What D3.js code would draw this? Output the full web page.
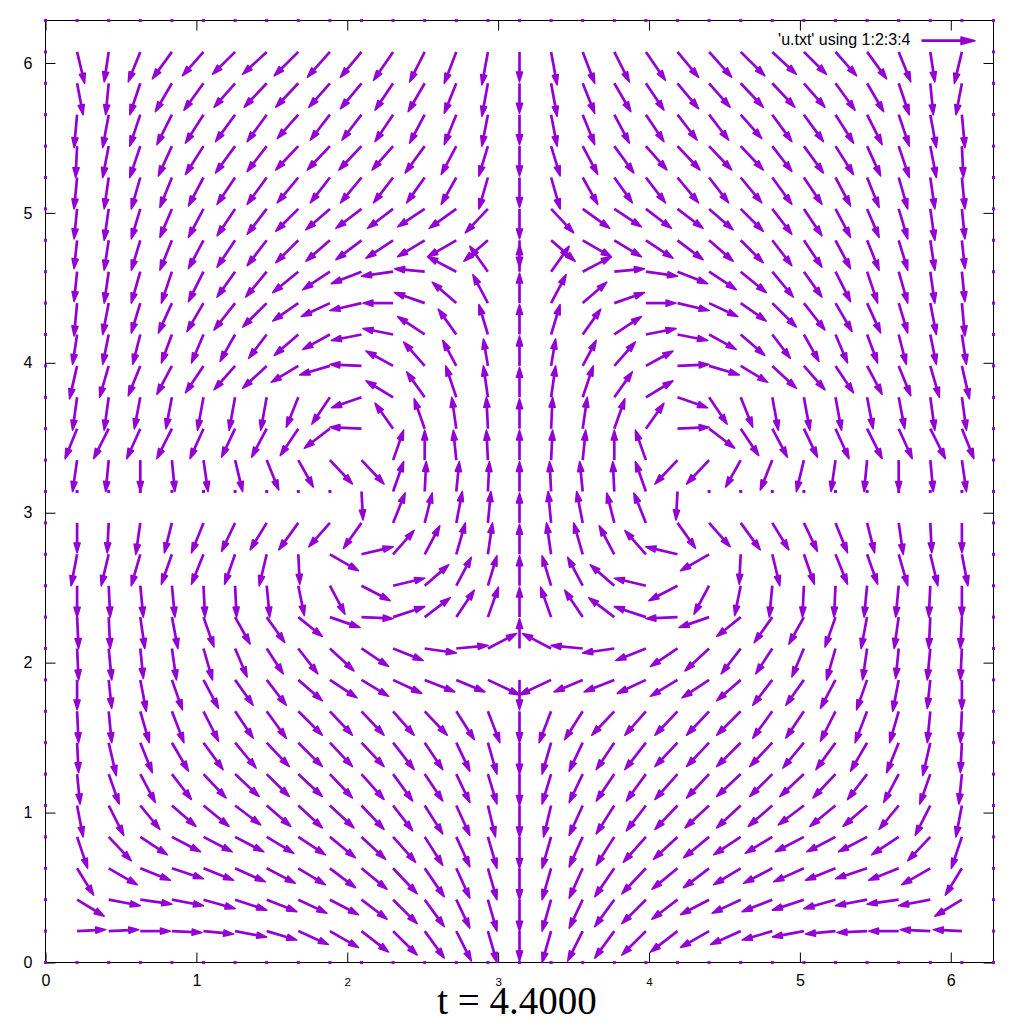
<!DOCTYPE html>
<html><head><meta charset="utf-8">
<script src="https://cdn.jsdelivr.net/npm/d3@7"></script>
<style>body{margin:0;background:#fff}</style>
</head><body>
<svg id="c" width="1024" height="1024" xmlns="http://www.w3.org/2000/svg"></svg>
<script>
// Grid positions (columns 1 and 2 of u.txt)
const xGrid = [0,0.2094,0.4189,0.6283,0.8378,1.0472,1.2566,1.4661,1.6755,1.8850,2.0944,2.3038,2.5133,2.7227,2.9322,3.1416,3.3510,3.5605,3.7699,3.9794,4.1888,4.3982,4.6077,4.8171,5.0265,5.2360,5.4454,5.6549,5.8643,6.0737,6.2832];
const yGrid = [0,0.2094,0.4189,0.6283,0.8378,1.0472,1.2566,1.4661,1.6755,1.8850,2.0944,2.3038,2.5133,2.7227,2.9322,3.1416,3.3510,3.5605,3.7699,3.9794,4.1888,4.3982,4.6077,4.8171,5.0265,5.2360,5.4454,5.6549,5.8643,6.0737,6.2832];
// Vector components (columns 3 and 4), row index = y index (bottom to top), column index = x index
const U = [
[0,0,0,0,0,0,0,0,0,0,0,0,0,0,0,0,0,0,0,0,0,0,0,0,0,0,0,0,0,0,0],
[0,.19,.20,.20,.20,.20,.21,.20,.20,.19,.18,.16,.13,.10,.06,0,-.06,-.10,-.13,-.16,-.18,-.19,-.20,-.20,-.21,-.20,-.20,-.20,-.20,-.19,0],
[0,.18,.21,.21,.21,.21,.21,.20,.19,.19,.17,.16,.13,.09,.06,0,-.06,-.09,-.13,-.16,-.17,-.19,-.19,-.20,-.21,-.21,-.21,-.21,-.21,-.18,0],
[0,.11,.19,.20,.21,.20,.20,.19,.18,.17,.17,.16,.13,.09,.06,0,-.06,-.09,-.13,-.16,-.17,-.17,-.18,-.19,-.20,-.20,-.21,-.20,-.19,-.11,0],
[0,.07,.15,.18,.19,.19,.19,.18,.18,.17,.16,.15,.12,.09,.06,0,-.06,-.09,-.12,-.15,-.16,-.17,-.18,-.18,-.19,-.19,-.19,-.18,-.15,-.07,0],
[0,.04,.10,.13,.16,.17,.17,.16,.16,.16,.15,.13,.12,.09,.05,0,-.05,-.09,-.12,-.13,-.15,-.16,-.16,-.16,-.17,-.17,-.16,-.13,-.10,-.04,0],
[0,.02,.07,.10,.13,.15,.16,.15,.16,.15,.15,.13,.12,.09,.06,0,-.06,-.09,-.12,-.13,-.15,-.15,-.16,-.15,-.16,-.15,-.13,-.10,-.07,-.02,0],
[0,.01,.05,.08,.11,.13,.14,.15,.16,.15,.15,.14,.12,.09,.06,0,-.06,-.09,-.12,-.14,-.15,-.15,-.16,-.15,-.14,-.13,-.11,-.08,-.05,-.01,0],
[0,.01,.02,.06,.08,.10,.12,.13,.16,.15,.15,.14,.15,.12,.08,0,-.08,-.12,-.15,-.14,-.15,-.15,-.16,-.13,-.12,-.10,-.08,-.06,-.02,-.01,0],
[0,0,.02,.04,.07,.10,.12,.13,.16,.18,.18,.19,.20,.19,.21,0,-.21,-.19,-.20,-.19,-.18,-.18,-.16,-.13,-.12,-.10,-.07,-.04,-.02,0,0],
[0,.01,.02,.02,.03,.06,.08,.11,.13,.16,.18,.20,.21,.21,.19,0,-.19,-.21,-.21,-.20,-.18,-.16,-.13,-.11,-.08,-.06,-.03,-.02,-.02,-.01,0],
[0,.01,.01,.03,.04,.07,.10,.12,.16,.20,.21,.21,.17,.12,.07,0,-.07,-.12,-.17,-.21,-.21,-.20,-.16,-.12,-.10,-.07,-.04,-.03,-.01,-.01,0],
[0,0,.01,.02,.02,.01,.01,.02,.04,.10,.19,.21,.16,.10,.06,0,-.06,-.10,-.16,-.21,-.19,-.10,-.04,-.02,-.01,-.01,-.02,-.02,-.01,0,0],
[0,-.04,-.05,-.06,-.07,-.08,-.07,-.05,.01,.19,.21,.14,.10,.06,.03,0,-.03,-.06,-.10,-.14,-.21,-.19,-.01,.05,.07,.08,.07,.06,.05,.04,0],
[0,0,-.01,-.03,-.05,-.08,-.09,-.11,-.13,-.14,-.12,.08,.05,.04,.02,0,-.02,-.04,-.05,-.08,.12,.14,.13,.11,.09,.08,.05,.03,.01,0,0],
[0,0,0,0,0,0,0,0,0,0,.01,.07,.01,.02,.01,0,-.01,-.02,-.01,-.07,-.01,0,0,0,0,0,0,0,0,0,0],
[0,-.03,-.02,0,.02,.03,.05,.08,.10,.15,.15,.07,0,-.02,-.01,0,.01,.02,0,-.07,-.15,-.15,-.10,-.08,-.05,-.03,-.02,0,.02,.03,0],
[0,-.08,-.10,-.09,-.10,-.09,-.09,-.10,-.12,-.17,-.21,-.12,-.07,-.03,-.01,0,.01,.03,.07,.12,.21,.17,.12,.10,.09,.09,.10,.09,.10,.08,0],
[0,-.03,-.03,-.04,-.04,-.04,-.04,-.04,-.08,-.12,-.20,-.18,-.12,-.07,-.03,0,.03,.07,.12,.18,.20,.12,.08,.04,.04,.04,.04,.04,.03,.03,0],
[0,-.05,-.06,-.08,-.10,-.12,-.14,-.16,-.18,-.20,-.21,-.18,-.14,-.09,-.03,0,.03,.09,.14,.18,.21,.20,.18,.16,.14,.12,.10,.08,.06,.05,0],
[0,-.03,-.04,-.05,-.07,-.08,-.10,-.12,-.16,-.18,-.20,-.20,-.18,-.12,-.06,0,.06,.12,.18,.20,.20,.18,.16,.12,.10,.08,.07,.05,.04,.03,0],
[0,-.02,-.04,-.06,-.09,-.11,-.14,-.16,-.17,-.19,-.21,-.20,-.20,-.16,-.10,0,.10,.16,.20,.20,.21,.19,.17,.16,.14,.11,.09,.06,.04,.02,0],
[0,-.02,-.03,-.06,-.07,-.10,-.12,-.14,-.17,-.18,-.20,-.21,-.20,-.19,-.12,0,.12,.19,.20,.21,.20,.18,.17,.14,.12,.10,.07,.06,.03,.02,0],
[0,-.02,-.03,-.06,-.08,-.10,-.12,-.13,-.15,-.16,-.17,-.18,-.18,-.19,-.16,0,.16,.19,.18,.18,.17,.16,.15,.13,.12,.10,.08,.06,.03,.02,0],
[0,-.02,-.03,-.06,-.08,-.10,-.12,-.13,-.15,-.16,-.17,-.17,-.18,-.18,-.15,0,.15,.18,.18,.17,.17,.16,.15,.13,.12,.10,.08,.06,.03,.02,0],
[0,-.02,-.03,-.06,-.08,-.10,-.12,-.13,-.14,-.13,-.14,-.13,-.12,-.10,-.06,0,.06,.10,.12,.13,.14,.13,.14,.13,.12,.10,.08,.06,.03,.02,0],
[0,-.01,-.04,-.07,-.09,-.12,-.13,-.13,-.15,-.15,-.15,-.14,-.13,-.10,-.06,0,.06,.10,.13,.14,.15,.15,.15,.13,.13,.12,.09,.07,.04,.01,0],
[0,-.02,-.04,-.07,-.10,-.12,-.13,-.13,-.14,-.13,-.13,-.12,-.10,-.08,-.04,0,.04,.08,.10,.12,.13,.13,.14,.13,.13,.12,.10,.07,.04,.02,0],
[0,.04,-.02,-.07,-.11,-.13,-.14,-.15,-.15,-.14,-.14,-.12,-.11,-.08,-.04,0,.04,.08,.11,.12,.14,.14,.15,.15,.14,.13,.11,.07,.02,-.04,0],
[0,.05,-.03,-.08,-.13,-.14,-.15,-.16,-.16,-.15,-.14,-.13,-.10,-.08,-.04,0,.04,.08,.10,.13,.14,.15,.16,.16,.15,.14,.13,.08,.03,-.05,0],
[0,0,0,0,0,0,0,0,0,0,0,0,0,0,0,0,0,0,0,0,0,0,0,0,0,0,0,0,0,0,0]
];
const V = [
[0,0,0,0,0,0,0,0,0,0,0,0,0,0,0,0,0,0,0,0,0,0,0,0,0,0,0,0,0,0,0],
[0,.01,.01,0,-.01,-.02,-.04,-.06,-.09,-.11,-.14,-.16,-.18,-.20,-.21,-.20,-.21,-.20,-.18,-.16,-.14,-.11,-.09,-.06,-.04,-.02,-.01,0,.01,.01,0],
[0,-.11,-.04,-.03,-.04,-.06,-.07,-.08,-.09,-.10,-.13,-.16,-.18,-.19,-.21,-.21,-.21,-.19,-.18,-.16,-.13,-.10,-.09,-.08,-.07,-.06,-.04,-.03,-.04,-.11,0],
[0,-.18,-.11,-.08,-.07,-.08,-.09,-.10,-.11,-.13,-.14,-.17,-.19,-.20,-.21,-.21,-.21,-.20,-.19,-.17,-.14,-.13,-.11,-.10,-.09,-.08,-.07,-.08,-.11,-.18,0],
[0,-.21,-.16,-.12,-.10,-.10,-.10,-.11,-.12,-.14,-.15,-.17,-.19,-.20,-.21,-.21,-.21,-.20,-.19,-.17,-.15,-.14,-.12,-.11,-.10,-.10,-.10,-.12,-.16,-.21,0],
[0,-.21,-.20,-.16,-.14,-.14,-.13,-.14,-.15,-.15,-.16,-.17,-.19,-.20,-.21,-.21,-.21,-.20,-.19,-.17,-.16,-.15,-.15,-.14,-.13,-.14,-.14,-.16,-.20,-.21,0],
[0,-.20,-.20,-.19,-.17,-.16,-.15,-.15,-.15,-.16,-.17,-.18,-.18,-.19,-.20,-.21,-.20,-.19,-.18,-.18,-.17,-.16,-.15,-.15,-.15,-.16,-.17,-.19,-.20,-.20,0],
[0,-.20,-.22,-.20,-.19,-.18,-.17,-.16,-.16,-.16,-.16,-.18,-.18,-.19,-.21,-.21,-.21,-.19,-.18,-.18,-.16,-.16,-.16,-.16,-.17,-.18,-.19,-.20,-.22,-.20,0],
[0,-.21,-.21,-.21,-.21,-.20,-.18,-.18,-.16,-.16,-.16,-.16,-.16,-.19,-.21,-.21,-.21,-.19,-.16,-.16,-.16,-.16,-.16,-.18,-.18,-.20,-.21,-.21,-.21,-.21,0],
[0,-.20,-.19,-.21,-.20,-.19,-.17,-.17,-.14,-.12,-.11,-.09,-.08,-.08,-.10,-.20,-.10,-.08,-.08,-.09,-.11,-.12,-.14,-.17,-.17,-.19,-.20,-.21,-.19,-.20,0],
[0,-.21,-.21,-.20,-.21,-.21,-.19,-.17,-.17,-.15,-.12,-.08,-.03,.02,.10,.20,.10,.02,-.03,-.08,-.12,-.15,-.17,-.17,-.19,-.21,-.21,-.20,-.21,-.21,0],
[0,-.21,-.21,-.21,-.21,-.20,-.18,-.17,-.13,-.07,-.01,.07,.13,.18,.20,.20,.20,.18,.13,.07,-.01,-.07,-.13,-.17,-.18,-.20,-.21,-.21,-.21,-.21,0],
[0,-.21,-.21,-.21,-.21,-.21,-.21,-.21,-.20,-.19,-.10,.05,.14,.19,.20,.20,.20,.19,.14,.05,-.10,-.19,-.20,-.21,-.21,-.21,-.21,-.21,-.21,-.21,0],
[0,-.21,-.21,-.21,-.20,-.20,-.20,-.21,-.20,-.11,.05,.16,.19,.21,.21,.20,.21,.21,.19,.16,.05,-.11,-.20,-.21,-.20,-.20,-.20,-.21,-.21,-.21,0],
[0,-.20,-.20,-.21,-.20,-.20,-.19,-.18,-.18,-.16,-.17,.20,.20,.21,.21,.20,.21,.21,.20,.20,-.17,-.16,-.18,-.18,-.19,-.20,-.20,-.21,-.20,-.20,0],
[0,0,0,0,0,0,0,0,0,0,-.19,.20,.20,.20,.20,.20,.20,.20,.20,.20,-.19,0,0,0,0,0,0,0,0,0,0],
[0,-.21,-.21,-.21,-.21,-.21,-.21,-.20,-.18,-.16,-.16,.20,.20,.20,.20,.20,.20,.20,.20,.20,-.16,-.16,-.18,-.20,-.21,-.21,-.21,-.21,-.21,-.21,0],
[0,-.20,-.20,-.20,-.20,-.20,-.19,-.19,-.18,-.13,.01,.17,.20,.21,.21,.20,.21,.21,.20,.17,.01,-.13,-.18,-.19,-.19,-.20,-.20,-.20,-.20,-.20,0],
[0,-.22,-.22,-.21,-.21,-.22,-.22,-.22,-.20,-.18,-.07,.11,.17,.21,.21,.20,.21,.21,.17,.11,-.07,-.18,-.20,-.22,-.22,-.22,-.21,-.21,-.22,-.22,0],
[0,-.22,-.21,-.20,-.19,-.18,-.16,-.15,-.11,-.06,.01,.10,.16,.17,.18,.20,.18,.17,.16,.10,.01,-.06,-.11,-.15,-.16,-.18,-.19,-.20,-.21,-.22,0],
[0,-.20,-.20,-.20,-.19,-.19,-.18,-.16,-.14,-.10,-.04,.04,.12,.17,.20,.20,.20,.17,.12,.04,-.04,-.10,-.14,-.16,-.18,-.19,-.19,-.20,-.20,-.20,0],
[0,-.22,-.21,-.20,-.20,-.19,-.18,-.16,-.12,-.09,-.05,0,.07,.14,.19,.20,.19,.14,.07,0,-.05,-.09,-.12,-.16,-.18,-.19,-.20,-.20,-.21,-.22,0],
[0,-.20,-.21,-.21,-.21,-.20,-.17,-.17,-.14,-.12,-.08,-.03,.02,.10,.17,.18,.17,.10,.02,-.03,-.08,-.12,-.14,-.17,-.17,-.20,-.21,-.21,-.21,-.20,0],
[0,-.19,-.20,-.20,-.20,-.19,-.18,-.17,-.15,-.14,-.13,-.12,-.11,-.11,-.14,-.18,-.14,-.11,-.11,-.12,-.13,-.14,-.15,-.17,-.18,-.19,-.20,-.20,-.20,-.19,0],
[0,-.20,-.21,-.20,-.19,-.19,-.18,-.17,-.15,-.14,-.13,-.13,-.12,-.13,-.16,-.20,-.16,-.13,-.12,-.13,-.13,-.14,-.15,-.17,-.18,-.19,-.19,-.20,-.21,-.20,0],
[0,-.21,-.21,-.21,-.20,-.19,-.18,-.18,-.17,-.17,-.17,-.17,-.17,-.18,-.21,-.20,-.21,-.18,-.17,-.17,-.17,-.17,-.17,-.18,-.18,-.19,-.20,-.21,-.21,-.21,0],
[0,-.21,-.21,-.21,-.20,-.19,-.18,-.17,-.16,-.16,-.16,-.16,-.18,-.19,-.20,-.20,-.20,-.19,-.18,-.16,-.16,-.16,-.16,-.17,-.18,-.19,-.20,-.21,-.21,-.21,0],
[0,-.22,-.22,-.21,-.20,-.19,-.18,-.18,-.16,-.17,-.17,-.18,-.19,-.20,-.21,-.20,-.21,-.20,-.19,-.18,-.17,-.17,-.16,-.18,-.18,-.19,-.20,-.21,-.22,-.22,0],
[0,-.21,-.21,-.21,-.19,-.18,-.16,-.16,-.16,-.16,-.17,-.18,-.19,-.20,-.22,-.20,-.22,-.20,-.19,-.18,-.17,-.16,-.16,-.16,-.16,-.18,-.19,-.21,-.21,-.21,0],
[0,-.21,-.20,-.20,-.18,-.16,-.15,-.15,-.16,-.17,-.17,-.19,-.20,-.21,-.22,-.20,-.22,-.21,-.20,-.19,-.17,-.17,-.16,-.15,-.15,-.16,-.18,-.20,-.20,-.21,0],
[0,0,0,0,0,0,0,0,0,0,0,0,0,0,0,0,0,0,0,0,0,0,0,0,0,0,0,0,0,0,0]
];
const xTicks = [0,1,2,3,4,5,6];
const yTicks = [0,1,2,3,4,5,6];
const smallXTicks = [2,3,4];
const legendLabel = "'u.txt' using 1:2:3:4";
const titleText = "t = 4.4000";

const COLOR = "#9400d3";
const svg = d3.select("#c");
svg.append("rect").attr("width",1024).attr("height",1024).attr("fill","#fff");

const x = d3.scaleLinear().domain([0, 2*Math.PI]).range([45.5, 993.5]);
const y = d3.scaleLinear().domain([0, 2*Math.PI]).range([962.5, 20.5]);

// frame
svg.append("rect").attr("x",x(0)).attr("y",y(2*Math.PI))
  .attr("width",x(2*Math.PI)-x(0)).attr("height",y(0)-y(2*Math.PI))
  .attr("fill","none").attr("stroke","#000").attr("stroke-width",1);

const fontSans = "'Liberation Sans', Arial, sans-serif";
// axes (ticks point inward, mirrored on top/right)
const gx = svg.append("g").attr("transform",`translate(0,${y(0)})`).style("color","#000")
  .call(d3.axisBottom(x).tickValues(xTicks).tickSize(-10).tickSizeOuter(0).tickFormat(d3.format("d")));
gx.select(".domain").remove();
gx.selectAll("text").attr("y",23.5).attr("dy",null)
  .attr("font-family",fontSans).attr("font-size",d => smallXTicks.includes(d) ? 11.5 : 16).attr("fill","#000");

const gy = svg.append("g").attr("transform",`translate(${x(0)},0)`).style("color","#000")
  .call(d3.axisLeft(y).tickValues(yTicks).tickSize(-10).tickSizeOuter(0).tickPadding(13).tickFormat(d3.format("d")));
gy.select(".domain").remove();
gy.selectAll("text").attr("font-family",fontSans).attr("font-size",16).attr("fill","#000");

const gt = svg.append("g").attr("transform",`translate(0,${y(2*Math.PI)})`).style("color","#000")
  .call(d3.axisTop(x).tickValues(xTicks).tickSize(-10).tickSizeOuter(0).tickFormat(() => ""));
gt.select(".domain").remove();
const gr = svg.append("g").attr("transform",`translate(${x(2*Math.PI)},0)`).style("color","#000")
  .call(d3.axisRight(y).tickValues(yTicks).tickSize(-10).tickSizeOuter(0).tickFormat(() => ""));
gr.select(".domain").remove();

// vectors
const vectors = [];
yGrid.forEach((yy, j) => xGrid.forEach((xx, k) => vectors.push({x: xx, y: yy, u: U[j][k], v: V[j][k]})));

function arrowGeom(x0, y0, x1, y1, L, W) {
  const dx = x1 - x0, dy = y1 - y0, len = Math.hypot(dx, dy);
  const ux = dx/len, uy = dy/len;
  const hl = Math.min(L, len*0.6);
  const bx = x1 - ux*hl, by = y1 - uy*hl;
  const px = -uy, py = ux;
  return {
    shaft: `M${x0},${y0}L${bx + ux*1},${by + uy*1}`,
    head: `M${x1},${y1}L${bx + px*W},${by + py*W}L${bx - px*W},${by - py*W}Z`
  };
}

const gv = svg.append("g");
vectors.forEach(d => {
  const x0 = x(d.x), y0 = y(d.y);
  if (d.u === 0 && d.v === 0) {
    gv.append("rect").attr("x", x0 - 1.5).attr("y", y0 - 1.5).attr("width", 3).attr("height", 3).attr("fill", COLOR);
    return;
  }
  const g = arrowGeom(x0, y0, x(d.x + d.u), y(d.y + d.v), 10, 3.1);
  gv.append("path").attr("d", g.shaft).attr("stroke", COLOR).attr("stroke-width", 2.7).attr("fill", "none");
  gv.append("path").attr("d", g.head).attr("fill", COLOR).attr("stroke", COLOR).attr("stroke-width", 1.5).attr("stroke-linejoin", "round");
});

// legend
svg.append("text").attr("x", 910.5).attr("y", 44.5).attr("text-anchor", "end")
  .attr("font-family", fontSans).attr("font-size", 16).attr("fill", "#000").text(legendLabel);
const lg = arrowGeom(921.5, 40.7, 975, 40.7, 14, 3.8);
svg.append("path").attr("d", lg.shaft).attr("stroke", COLOR).attr("stroke-width", 2.7).attr("fill", "none");
svg.append("path").attr("d", lg.head).attr("fill", COLOR).attr("stroke", COLOR).attr("stroke-width", 1.5).attr("stroke-linejoin", "round");

// title
svg.append("text").attr("x", 517).attr("y", 1014).attr("text-anchor", "middle")
  .attr("font-family", "'Liberation Serif', 'Times New Roman', serif").attr("font-size", 39).attr("fill", "#000").text(titleText);
</script>
</body></html>
